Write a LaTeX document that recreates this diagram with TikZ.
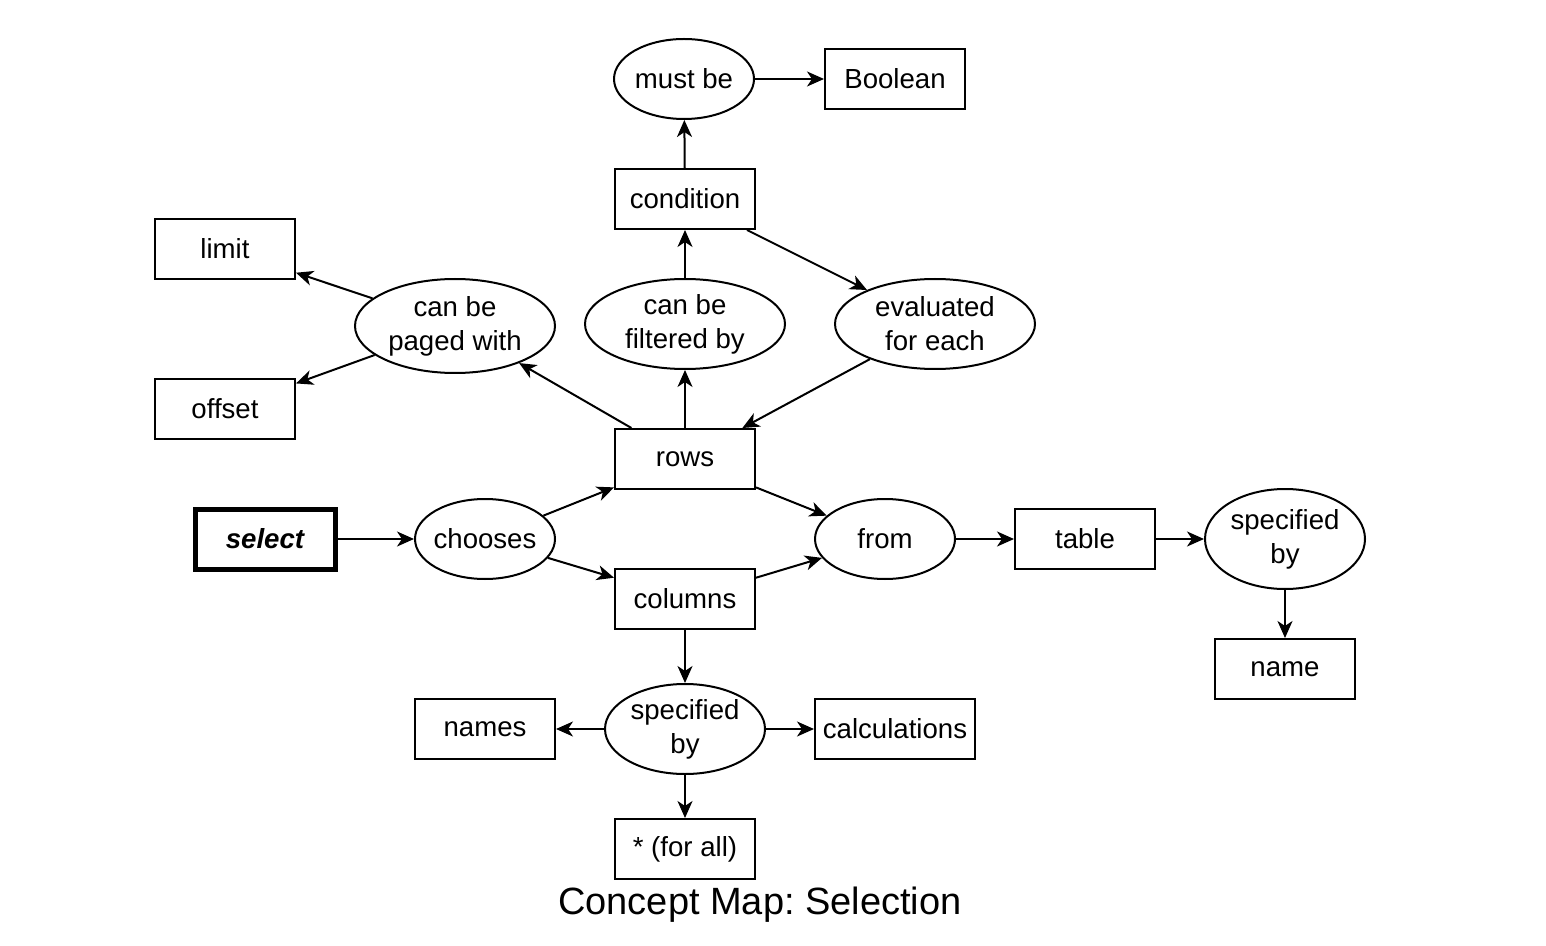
\documentclass[tikz,border=0pt]{standalone}
\usepackage{fontspec}
\setmainfont{Liberation Sans}
\usetikzlibrary{arrows.meta}
\usetikzlibrary{shapes}
\tikzstyle{con}=[shape=rectangle,draw,line width=1pt,inner sep=0pt,minimum width=70pt,minimum height=30pt,font=\fontsize{13.8pt}{17pt}\selectfont]
\tikzstyle{rel}=[shape=ellipse,draw,line width=1pt,inner sep=0pt,minimum width=70pt,minimum height=40pt,align=center,font=\fontsize{13.8pt}{17pt}\selectfont]
\tikzstyle{conn}=[draw,line width=1pt,-{Stealth[length=8.5pt,width=7.5pt,inset=2.5pt]}]

\begin{document}
\begin{tikzpicture}[x=0.5pt,y=-0.5pt]
\useasboundingbox (0,0) rectangle (1546,946);

\node[rel] (mustbe) at (684,79) {must be};
\node[con] (bool) at (895,79) {Boolean};
\node[con] (cond) at (685,199) {condition};
\node[con] (limit) at (225,249) {limit};
\node[con] (offset) at (225,409) {offset};
\node[rel, minimum width=100pt, minimum height=47pt] (paged) at (455,326) {can be\\paged with};
\node[rel, minimum width=100pt, minimum height=45pt] (filt) at (685,324) {can be\\filtered by};
\node[rel, minimum width=100pt, minimum height=45pt] (evfor) at (935,324) {evaluated\\for each};
\node[con] (rows) at (685,459) {rows};

\node[con, line width=2.5pt, font=\fontsize{13.8pt}{17pt}\selectfont\bfseries\itshape] (select) at (265,539) {select};
\node[rel, inner xsep=-2pt] (chooses) at (485,539) {chooses};
\node[rel] (from) at (885,539) {from};
\node[con] (table) at (1085,539) {table};
\node[rel, minimum width=80pt, minimum height=50pt] (specr) at (1285,539) {specified\\by};
\node[con] (name) at (1285,669) {name};

\node[con] (cols) at (685,599) {columns};
\node[rel, minimum width=80pt, minimum height=45pt] (specb) at (685,729) {specified\\by};
\node[con] (names) at (485,729) {names};
\node[con, minimum width=80pt] (calc) at (895,729) {calculations};
\node[con] (forall) at (685,849) {* (for all)};

\node[font=\fontsize{19pt}{23pt}\selectfont] (caption) at (760,905) {Concept Map:\ Selection};

\draw[conn] (mustbe) -- (bool);
\draw[conn] (cond) -- (mustbe);
\draw[conn] (filt) -- (cond);
\draw[conn] (cond) -- (evfor);
\draw[conn] (evfor) -- (rows);
\draw[conn] (rows) -- (filt);
\draw[conn] (rows) -- (paged);
\draw[conn] (paged) -- (limit);
\draw[conn] (paged) -- (offset);

\draw[conn] (select) -- (chooses);
\draw[conn] (chooses) -- (rows);
\draw[conn] (chooses) -- (cols);
\draw[conn] (rows) -- (from);
\draw[conn] (cols) -- (from);
\draw[conn] (from) -- (table);
\draw[conn] (table) -- (specr);
\draw[conn] (specr) -- (name);

\draw[conn] (cols) -- (specb);
\draw[conn] (specb) -- (names);
\draw[conn] (specb) -- (calc);
\draw[conn] (specb) -- (forall);
\end{tikzpicture}
\end{document}
